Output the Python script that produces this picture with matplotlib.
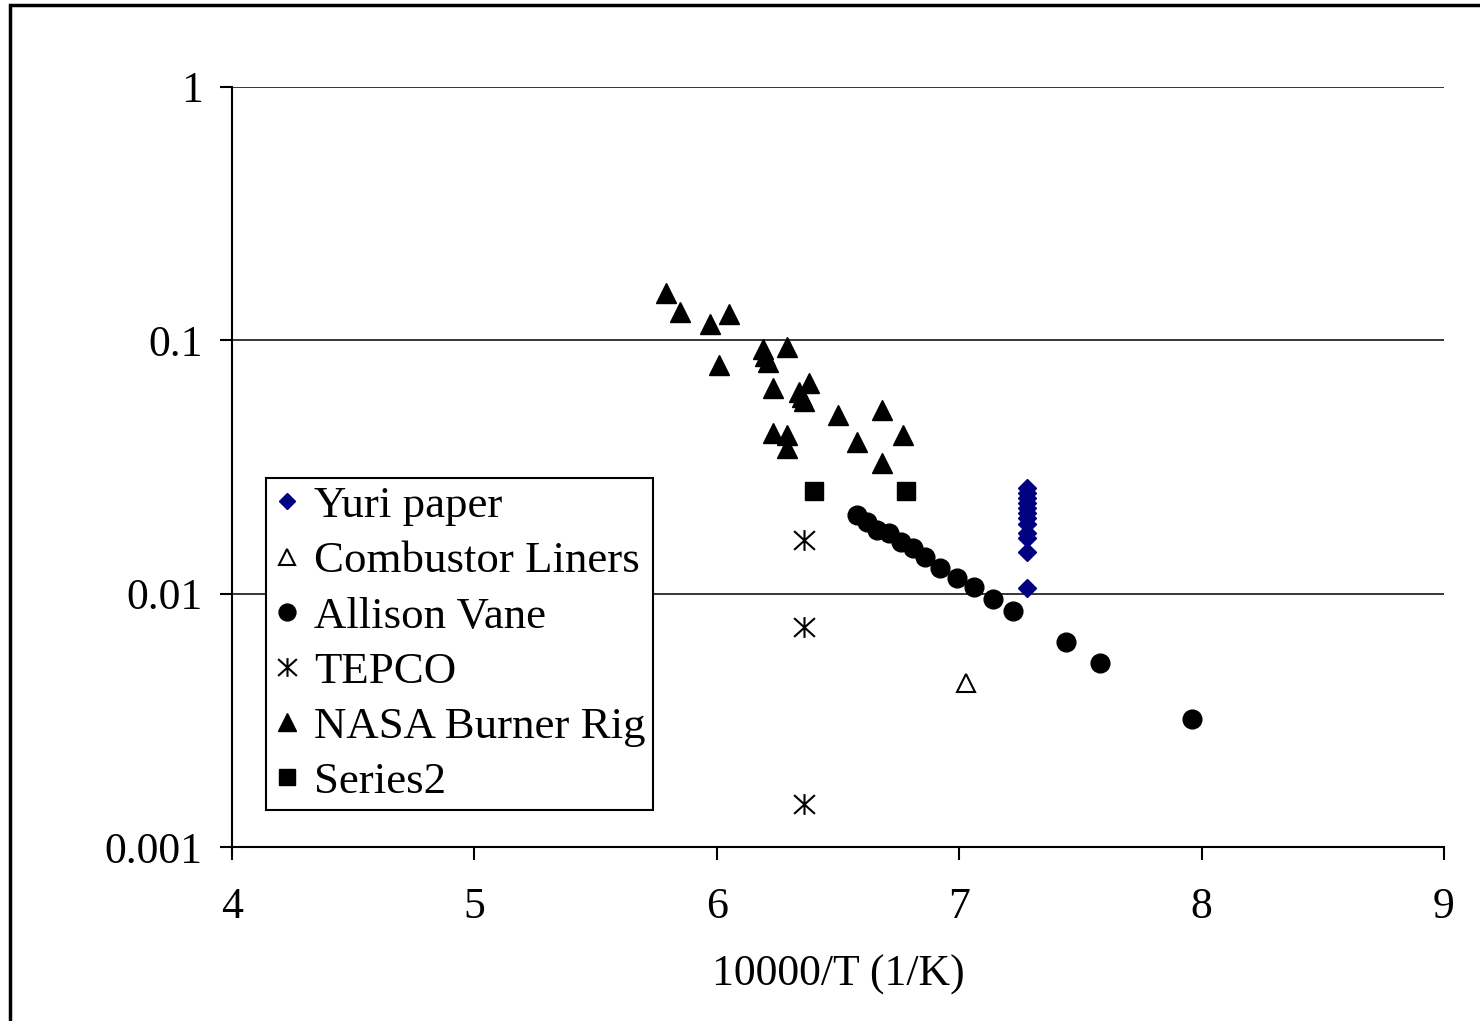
#Scatter of rate vs 10000/T on a log axis, several data sources
import numpy as np
import matplotlib.pyplot as plt
from matplotlib.path import Path
from matplotlib.patches import Rectangle

plt.rcParams['font.family'] = ['Liberation Serif', 'DejaVu Serif']

#Data
yuri_x = [7.28] * 12
yuri_y = [0.0261, 0.0249, 0.0238, 0.0228, 0.0218, 0.0208, 0.0199, 0.0188, 0.0173, 0.0166, 0.0146, 0.0105]

liner_x = [7.03]
liner_y = [0.00444]

allison_x = [6.58, 6.62, 6.66, 6.71, 6.76, 6.81, 6.86, 6.92, 6.99, 7.06, 7.14, 7.22, 7.44, 7.58, 7.96]
allison_y = [0.0204, 0.0192, 0.0178, 0.0173, 0.0160, 0.0151, 0.0139, 0.0126, 0.0115, 0.0106,
             0.00952, 0.00854, 0.00644, 0.00532, 0.00320]

tepco_x = [6.36, 6.36, 6.36]
tepco_y = [0.0163, 0.00738, 0.00148]

nasa_x = [5.79, 5.85, 5.97, 6.05, 6.01, 6.19, 6.20, 6.21, 6.29, 6.23, 6.34, 6.38, 6.36, 6.35,
          6.50, 6.68, 6.23, 6.29, 6.29, 6.58, 6.77, 6.68]
nasa_y = [0.154, 0.129, 0.116, 0.127, 0.0798, 0.0924, 0.0867, 0.082, 0.094, 0.0648, 0.0625, 0.0678,
          0.0576, 0.060, 0.0507, 0.0531, 0.043, 0.0423, 0.0376, 0.0397, 0.0423, 0.0328]

series2_x = [6.40, 6.78]
series2_y = [0.0254, 0.0254]

x_ticks = [4, 5, 6, 7, 8, 9]
y_ticks = [0.001, 0.01, 0.1, 1]
y_labels = ['0.001', '0.01', '0.1', '1']

#asterisk marker like the excel one
star = Path([(-1, -0.9), (1, 0.9), (-1, 0.9), (1, -0.9), (0, -1), (0, 1)],
            [Path.MOVETO, Path.LINETO, Path.MOVETO, Path.LINETO, Path.MOVETO, Path.LINETO])

fig = plt.figure(figsize=(14.8, 10.21), dpi=100)
ax = fig.add_axes([232/1480, 1 - 847/1021, 1212/1480, 760/1021])

ax.plot(yuri_x, yuri_y, 'D', color='#000080', markersize=9.5, label='Yuri paper', zorder=3)
ax.plot(liner_x, liner_y, '^', markerfacecolor='white', markeredgecolor='black', markeredgewidth=1.5,
        markersize=13, label='Combustor Liners', zorder=3)
ax.plot(allison_x, allison_y, 'o', color='black', markersize=13.5, label='Allison Vane', zorder=3)
ax.plot(tepco_x, tepco_y, linestyle='none', marker=star, color='black', markersize=15,
        markeredgewidth=1.5, label='TEPCO', zorder=3)
ax.plot(nasa_x, nasa_y, '^', color='black', markersize=14, label='NASA Burner Rig', zorder=3)
ax.plot(series2_x, series2_y, 's', color='black', markersize=13.5, label='Series2', zorder=3)

ax.set_yscale('log')
ax.set_xlim(4, 9)
ax.set_ylim(0.001, 1)
ax.set_xticks(x_ticks)
ax.set_yticks(y_ticks)
ax.set_yticklabels(y_labels)
ax.minorticks_off()
ax.tick_params(axis='both', direction='out', length=9, width=1.5, labelsize=31.5)
ax.tick_params(axis='x', pad=20)
ax.tick_params(axis='y', pad=12)
ax.grid(axis='y', color='black', linewidth=1.1)
ax.set_axisbelow(True)
ax.spines['top'].set_visible(False)
ax.spines['right'].set_visible(False)
ax.spines['left'].set_linewidth(1.5)
ax.spines['bottom'].set_linewidth(1.5)
ax.set_xlabel('10000/T (1/K)', fontsize=31.5, labelpad=20)

leg = ax.legend(loc='lower left', bbox_to_anchor=(0.028, 0.049), borderaxespad=0, fontsize=32.3,
                frameon=True, fancybox=False, edgecolor='black', framealpha=1, markerscale=0.9,
                handlelength=0.6, handletextpad=0.3, labelspacing=0.33, borderpad=0.17)
leg.get_frame().set_linewidth(1.5)

#outer chart frame
fig.patches.append(Rectangle((10/1480, -0.1), 1.2, 1.1 - 5/1021, transform=fig.transFigure,
                             fill=False, edgecolor='black', linewidth=2.5))

fig.savefig('out.png', dpi=100)
